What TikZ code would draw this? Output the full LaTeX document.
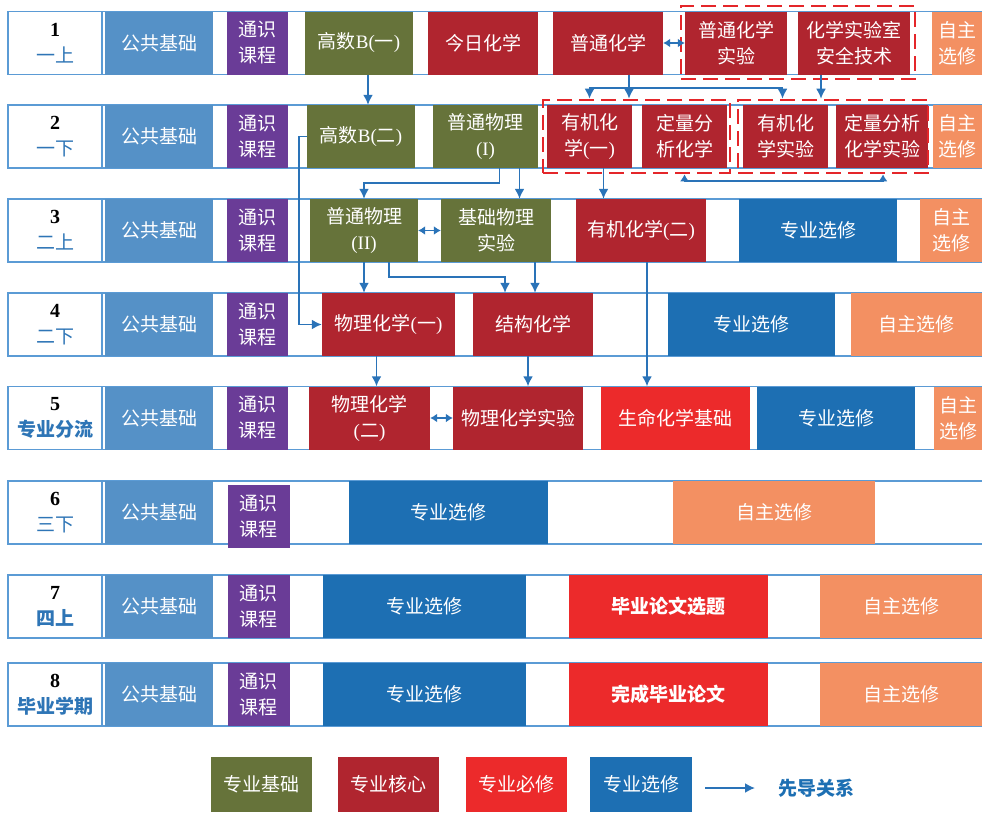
\documentclass[tikz,border=0pt]{standalone}
\usepackage{fontspec}
\usepackage{tikz}
\usetikzlibrary{shapes,arrows,arrows.meta}
\newfontfamily\cjk{Noto Sans CJK SC}
\newfontfamily\tms{Liberation Serif}
\definecolor{pubblue}{HTML}{5591C7}
\definecolor{genpurple}{HTML}{6A3C97}
\definecolor{basegreen}{HTML}{66733A}
\definecolor{corered}{HTML}{B0252F}
\definecolor{mustred}{HTML}{EC2A2B}
\definecolor{elecblue}{HTML}{1D6FB3}
\definecolor{freeorange}{HTML}{F39062}
\definecolor{frameblue}{HTML}{5B9BD5}
\definecolor{arrowblue}{HTML}{2A73B8}
\definecolor{labblue}{HTML}{2E75B6}
\definecolor{dashred}{HTML}{E4262A}
\tikzstyle{frame} = [rectangle, draw=frameblue, line width=1.2pt, 
minimum height=63, inner sep=0pt, anchor=west]
\tikzstyle{semlab} = [rectangle, draw=frameblue, line width=1.2pt, fill=white, 
minimum width=94, minimum height=63, inner sep=0pt, align=center, text=labblue, 
font=\cjk\fontsize{19}{26}\selectfont]
\tikzstyle{block} = [rectangle, text=white, minimum height=63, inner sep=0pt, 
align=center, font=\cjk\fontsize{19}{26}\selectfont]
\tikzstyle{gonggong} = [block, fill=pubblue]
\tikzstyle{tongshi} = [block, fill=genpurple]
\tikzstyle{jichu} = [block, fill=basegreen]
\tikzstyle{hexin} = [block, fill=corered]
\tikzstyle{bixiu} = [block, fill=mustred]
\tikzstyle{xuanxiu} = [block, fill=elecblue]
\tikzstyle{zizhu} = [block, fill=freeorange]
\tikzstyle{zu} = [rectangle, draw=dashred, line width=2.6pt, 
dash pattern=on 15pt off 7pt, inner sep=0pt, minimum height=73]
\tikzstyle{line} = [draw=arrowblue, line width=1.8pt, -{Latex[length=10pt,width=10pt]}]
\tikzstyle{dline} = [draw=arrowblue, line width=1.8pt, 
{Latex[length=7pt,width=9pt]}-{Latex[length=7pt,width=9pt]}]
\newcommand{\num}[1]{{\color{black}\tms\bfseries\fontsize{20}{20}\selectfont #1}}

\begin{document}
\begin{tikzpicture}[x=1pt, y=-1pt]
    \useasboundingbox (0,0) rectangle (982,814);
    % Row frames
    \node [frame, minimum width=980] (row1) at (8,43) {};
    \node [frame, minimum width=980] (row2) at (8,136.5) {};
    \node [frame, minimum width=980] (row3) at (8,230.5) {};
    \node [frame, minimum width=980] (row4) at (8,324.5) {};
    \node [frame, minimum width=980] (row5) at (8,418) {};
    \node [frame, minimum width=980] (row6) at (8,512.5) {};
    \node [frame, minimum width=980] (row7) at (8,606.5) {};
    \node [frame, minimum width=980] (row8) at (8,694.5) {};

    % Place nodes
    % semester 1
    \node [semlab] (lab1) at (55,43) {\num{1}\\一上};
    \node [gonggong, minimum width=108] (gg1) at (159,43) {公共基础};
    \node [tongshi, minimum width=61] (ts1) at (257.5,43) {通识\\课程};
    \node [jichu, minimum width=108] (gaoB1) at (359,43) {高数{\tms B(}一{\tms )}};
    \node [hexin, minimum width=110] (jinri) at (483,43) {今日化学};
    \node [hexin, minimum width=110] (puhua) at (608,43) {普通化学};
    \node [hexin, minimum width=102] (puhuaexp) at (736,43) {普通化学\\实验};
    \node [hexin, minimum width=112] (anquan) at (854,43) {化学实验室\\安全技术};
    \node [zizhu, minimum width=50] (zz1) at (957,43) {自主\\选修};
    \node [zu, minimum width=234] (g1) at (798,42.5) {};
    % semester 2
    \node [semlab] (lab2) at (55,136.5) {\num{2}\\一下};
    \node [gonggong, minimum width=108] (gg2) at (159,136.5) {公共基础};
    \node [tongshi, minimum width=61] (ts2) at (257.5,136.5) {通识\\课程};
    \node [jichu, minimum width=108] (gaoB2) at (361,136.5) {高数{\tms B(}二{\tms )}};
    \node [jichu, minimum width=105] (wuli1) at (485.5,136.5) {普通物理\\{\tms (I)}};
    \node [hexin, minimum width=85] (youji1) at (589.5,136.5) {有机化\\学{\tms (}一{\tms )}};
    \node [hexin, minimum width=85] (dingliang) at (684.5,136.5) {定量分\\析化学};
    \node [hexin, minimum width=85] (youjiexp) at (785.5,136.5) {有机化\\学实验};
    \node [hexin, minimum width=92] (dlexp) at (882,136.5) {定量分析\\化学实验};
    \node [zizhu, minimum width=49] (zz2) at (957.5,136.5) {自主\\选修};
    \node [zu, minimum width=187] (g2) at (636.5,136.5) {};
    \node [zu, minimum width=190] (g3) at (833,136.5) {};
    % semester 3
    \node [semlab] (lab3) at (55,230.5) {\num{3}\\二上};
    \node [gonggong, minimum width=108] (gg3) at (159,230.5) {公共基础};
    \node [tongshi, minimum width=61] (ts3) at (257.5,230.5) {通识\\课程};
    \node [jichu, minimum width=108] (wuli2) at (364,230.5) {普通物理\\{\tms (II)}};
    \node [jichu, minimum width=110] (jcwlexp) at (496,230.5) {基础物理\\实验};
    \node [hexin, minimum width=130] (youji2) at (641,230.5) {有机化学{\tms (}二{\tms )}};
    \node [xuanxiu, minimum width=158] (xx3) at (818,230.5) {专业选修};
    \node [zizhu, minimum width=62] (zz3) at (951,230.5) {自主\\选修};
    % semester 4
    \node [semlab] (lab4) at (55,324.5) {\num{4}\\二下};
    \node [gonggong, minimum width=108] (gg4) at (159,324.5) {公共基础};
    \node [tongshi, minimum width=61] (ts4) at (257.5,324.5) {通识\\课程};
    \node [hexin, minimum width=133] (wuhua1) at (388.5,324.5) {物理化学{\tms (}一{\tms )}};
    \node [hexin, minimum width=120] (jiegou) at (533,324.5) {结构化学};
    \node [xuanxiu, minimum width=167] (xx4) at (751.5,324.5) {专业选修};
    \node [zizhu, minimum width=131] (zz4) at (916.5,324.5) {自主选修};
    % semester 5
    \node [semlab] (lab5) at (55,418) {\num{5}\\\bfseries 专业分流};
    \node [gonggong, minimum width=108] (gg5) at (159,418) {公共基础};
    \node [tongshi, minimum width=61] (ts5) at (257.5,418) {通识\\课程};
    \node [hexin, minimum width=121] (wuhua2) at (369.5,418) {物理化学\\{\tms (}二{\tms )}};
    \node [hexin, minimum width=130] (wuhuaexp) at (518,418) {物理化学实验};
    \node [bixiu, minimum width=149] (shengming) at (675.5,418) {生命化学基础};
    \node [xuanxiu, minimum width=158] (xx5) at (836,418) {专业选修};
    \node [zizhu, minimum width=48] (zz5) at (958,418) {自主\\选修};
    % semester 6
    \node [semlab] (lab6) at (55,512.5) {\num{6}\\三下};
    \node [gonggong, minimum width=108] (gg6) at (159,512.5) {公共基础};
    \node [tongshi, minimum width=62] (ts6) at (258.5,516.5) {通识\\课程};
    \node [xuanxiu, minimum width=199] (xx6) at (448.5,512.5) {专业选修};
    \node [zizhu, minimum width=202] (zz6) at (774,512.5) {自主选修};
    % semester 7
    \node [semlab] (lab7) at (55,606.5) {\num{7}\\\bfseries 四上};
    \node [gonggong, minimum width=108] (gg7) at (159,606.5) {公共基础};
    \node [tongshi, minimum width=62] (ts7) at (258.5,606.5) {通识\\课程};
    \node [xuanxiu, minimum width=203] (xx7) at (424.5,606.5) {专业选修};
    \node [bixiu, minimum width=199] (xuanti) at (668.5,606.5) {\bfseries 毕业论文选题};
    \node [zizhu, minimum width=162] (zz7) at (901,606.5) {自主选修};
    % semester 8
    \node [semlab] (lab8) at (55,694.5) {\num{8}\\\bfseries 毕业学期};
    \node [gonggong, minimum width=108] (gg8) at (159,694.5) {公共基础};
    \node [tongshi, minimum width=62] (ts8) at (258.5,694.5) {通识\\课程};
    \node [xuanxiu, minimum width=203] (xx8) at (424.5,694.5) {专业选修};
    \node [bixiu, minimum width=199] (lunwen) at (668.5,694.5) {\bfseries 完成毕业论文};
    \node [zizhu, minimum width=162] (zz8) at (901,694.5) {自主选修};
    % legend
    \node [jichu, minimum width=101, minimum height=55] (lg1) at (261.5,784.5) {专业基础};
    \node [hexin, minimum width=101, minimum height=55] (lg2) at (388.5,784.5) {专业核心};
    \node [bixiu, minimum width=101, minimum height=55] (lg3) at (516.5,784.5) {专业必修};
    \node [xuanxiu, minimum width=102, minimum height=55] (lg4) at (641,784.5) {专业选修};
    \coordinate (lgA) at (705,788);
    \coordinate (lgB) at (755,788);
    \node [text=elecblue, font=\cjk\bfseries\fontsize{19}{26}\selectfont] (lgtext) at (816,788) {先导关系};

    % Draw edges
    \path [line] ([xshift=9]gaoB1.south) -- ([xshift=9]gaoB1.south |- gaoB2.north);
    \path [dline] (puhua) -- (puhuaexp);
    \path [line] ([xshift=21]puhua.south) -- ([xshift=21]puhua.south |- g2.north);
    \path [line] ([xshift=21]puhua.south) -- ++(0,13) -| (youji1.north |- g2.north);
    \path [line] ([xshift=21]puhua.south) -- ++(0,13) -| ([xshift=-3]youjiexp.north |- g3.north);
    \path [line] ([xshift=-33]anquan.south) -- ([xshift=-33]anquan.south |- g3.north);
    \path [dline] (dingliang.south |- g2.south) -- ++(0,7) -| ([xshift=1]dlexp.south |- g3.south);
    \path [line] (gaoB2.west) -- ++(-8,0) |- (wuhua1.west);
    \path [line] ([xshift=14]wuli1.south) -- ++(0,15) -| (wuli2.north);
    \path [line] ([xshift=34]wuli1.south) -- ([xshift=34]wuli1.south |- jcwlexp.north);
    \path [line] ([xshift=14]youji1.south) -- ([xshift=14]youji1.south |- youji2.north);
    \path [dline] (wuli2) -- (jcwlexp);
    \path [line] (wuli2.south) -- (wuli2.south |- wuhua1.north);
    \path [line] ([xshift=25]wuli2.south) -- ++(0,15) -| ([xshift=-28]jiegou.north);
    \path [line] ([xshift=39]jcwlexp.south) -- ([xshift=39]jcwlexp.south |- jiegou.north);
    \path [line] ([xshift=6]youji2.south) -- ([xshift=6]youji2.south |- shengming.north);
    \path [line] ([xshift=-12]wuhua1.south) -- ([xshift=-12]wuhua1.south |- wuhua2.north);
    \path [line] ([xshift=-5]jiegou.south) -- ([xshift=-5]jiegou.south |- wuhuaexp.north);
    \path [dline] (wuhua2) -- (wuhuaexp);
    \path [line] (lgA) -- (lgB);
\end{tikzpicture}
\end{document}
